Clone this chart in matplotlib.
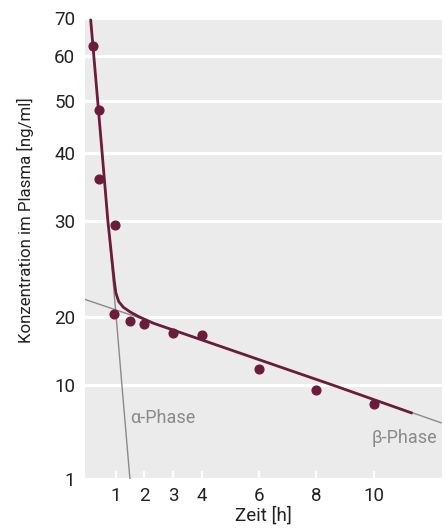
import numpy as np
import matplotlib
matplotlib.use("Agg")
import matplotlib.pyplot as plt

# -----------------------------
# Data (Zeit [h], Konzentration [ng/ml])
# -----------------------------
t_mess = [0.22, 0.42, 0.43, 0.98, 0.94, 1.5, 2.0, 3.0, 4.0, 6.0, 8.0, 10.0]
c_mess = [62.5, 48.0, 35.7, 29.4, 20.2, 19.1, 18.6, 16.9, 16.6, 11.8, 8.9, 6.3]

# fitted curve
t_fit = [0.13, 0.24, 0.375, 0.53, 0.73, 0.875, 0.951, 1.01, 1.11, 1.27, 1.50, 1.80, 2.31, 8.56, 11.35]
c_fit = [69.7, 60, 50, 40, 30, 25.4, 23.3, 22.1, 21.3, 20.8, 20.4, 20.0, 18.7, 10.0, 5.0]

# alpha / beta phase lines
t_alpha = [0.13, 0.24, 0.375, 0.53, 0.73, 1.02, 1.22, 1.50]
c_alpha = [69.7, 60, 50, 40, 30, 20, 10, 1]
t_beta = [-0.07, 1.69, 8.56, 12.34]
c_beta = [21.5, 20, 10, 3.97]

x_ticks = [1, 2, 3, 4, 6, 8, 10]
y_ticks = [1, 10, 20, 30, 40, 50, 60, 70]

# the printed axis is not a plain log axis: piecewise log scale
scale_vals = np.log10(y_ticks)
scale_pos = np.array([0, 94, 162.5, 258.5, 326.5, 378.5, 423.5, 461.0])


def fwd(v):
    v = np.clip(np.asarray(v, dtype=float), 1e-3, None)
    return np.interp(np.log10(v), scale_vals, scale_pos)


def inv(p):
    return 10 ** np.interp(p, scale_pos, scale_vals)


dark_red = "#6b1c3a"
grey = "#8a8a8a"
txt = "#222222"
plt.rcParams['font.family'] = ['Roboto', 'DejaVu Sans']

fig = plt.figure(figsize=(4.45, 5.30), dpi=100)
ax = fig.add_axes([0.191, 0.0962, 0.802, 0.8698])
ax.set_facecolor("#ebebeb")
ax.set_yscale("function", functions=(fwd, inv))

ax.plot(t_alpha, c_alpha, color=grey, lw=1.0, zorder=2)
ax.plot(t_beta, c_beta, color=grey, lw=1.0, zorder=2)
ax.plot(t_fit, c_fit, color=dark_red, lw=2.0, zorder=3, solid_capstyle="butt",
        solid_joinstyle="round")
ax.plot(t_mess, c_mess, "o", color=dark_red, ms=6.3, zorder=4)

ax.text(1.52, 4.46, "α-Phase", color=grey, fontsize=13, ha="left", va="center")
ax.text(12.2, 2.73, "β-Phase", color=grey, fontsize=13, ha="right", va="center")

ax.set_xlim(-0.066, 12.37)
ax.set_ylim(1, 70)
ax.set_xticks(x_ticks)
ax.set_yticks(y_ticks)
ax.set_yticklabels([str(v) for v in y_ticks])
ax.yaxis.set_minor_locator(matplotlib.ticker.NullLocator())

ax.grid(axis="y", color="white", lw=2.3)
ax.set_axisbelow(True)
for s in ax.spines.values():
    s.set_visible(False)

ax.tick_params(axis="x", direction="in", length=6, width=1.6, color="white",
               labelsize=13.5, pad=6, labelcolor=txt)
ax.tick_params(axis="y", length=0, labelsize=13.5, pad=7, labelcolor=txt)

ax.set_xlabel("Zeit [h]", fontsize=13.5, color=txt, labelpad=1)
ax.set_ylabel("Konzentration im Plasma [ng/ml]", fontsize=12.2, color=txt)
ax.yaxis.set_label_coords(-0.142, 0.562)

plt.savefig("out.png", dpi=100)
